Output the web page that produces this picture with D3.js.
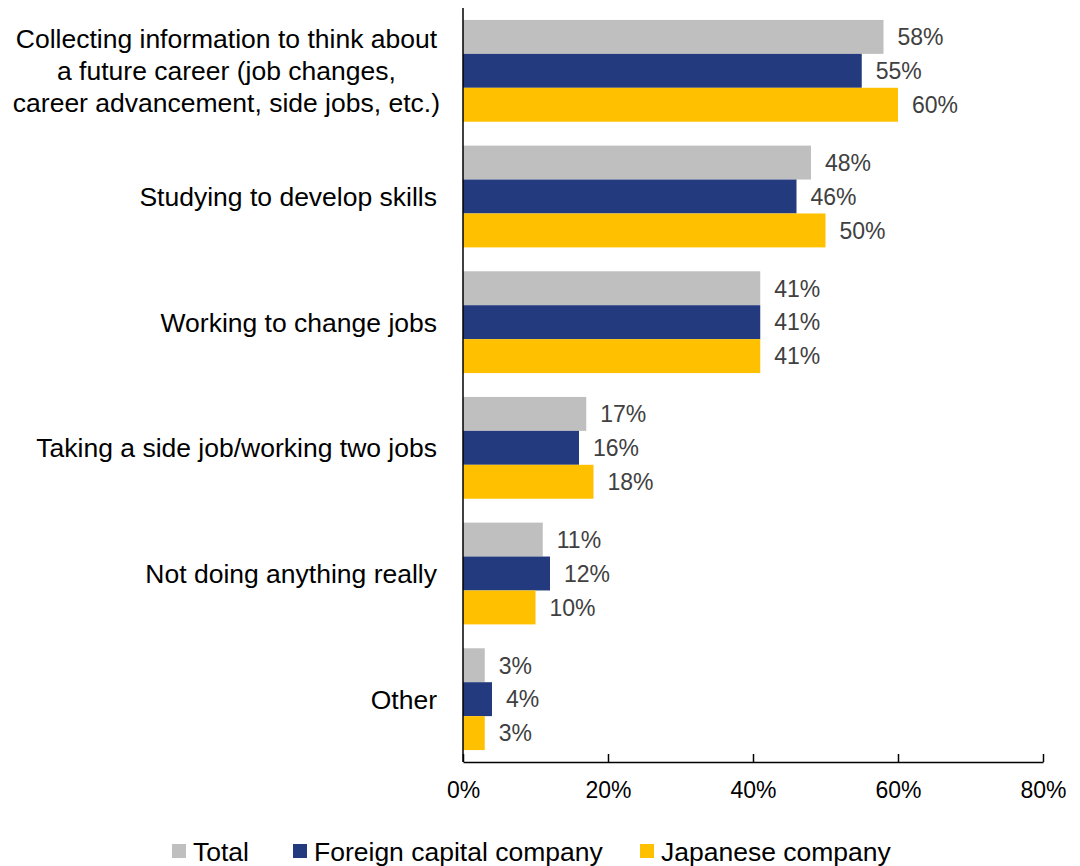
<!DOCTYPE html>
<html>
<head>
<meta charset="utf-8">
<script src="https://cdn.jsdelivr.net/npm/d3@7"></script>
<style>
  html, body { margin: 0; padding: 0; background: #fff; }
  svg { display: block; font-family: "Liberation Sans", Arial, sans-serif; }
</style>
</head>
<body>
<svg id="chart" width="1080" height="866"></svg>
<script>
// Survey categories (top to bottom) and share of respondents per group
const categories = [
  ["Collecting information to think about", "a future career (job changes,", "career advancement, side jobs, etc.)"],
  ["Studying to develop skills"],
  ["Working to change jobs"],
  ["Taking a side job/working two jobs"],
  ["Not doing anything really"],
  ["Other"]
];
const seriesNames = ["Total", "Foreign capital company", "Japanese company"];
const seriesColors = ["#BFBFBF", "#233A7E", "#FFC000"];
const totalValues    = [58, 48, 41, 17, 11, 3];
const foreignValues  = [55, 46, 41, 16, 12, 4];
const japaneseValues = [60, 50, 41, 18, 10, 3];
const tickValues = [0, 20, 40, 60, 80];

const series = [totalValues, foreignValues, japaneseValues];

const svg = d3.select("#chart");
const plot = { left: 463, right: 1043, top: 8, bottom: 762 };

const x = d3.scaleLinear().domain([0, 80]).range([plot.left, plot.right]);
const y = d3.scaleBand().domain(d3.range(categories.length))
  .range([plot.top, plot.bottom]).paddingInner(0.19).paddingOuter(0.095);
const ySub = d3.scaleBand().domain(d3.range(series.length)).range([0, y.bandwidth()]);

// Bars and value labels
series.forEach((vals, si) => {
  const g = svg.append("g");
  g.selectAll("rect").data(vals).join("rect")
    .attr("x", x(0))
    .attr("y", (d, i) => y(i) + ySub(si))
    .attr("width", d => x(d) - x(0))
    .attr("height", ySub.bandwidth())
    .attr("fill", seriesColors[si]);
  g.selectAll("text").data(vals).join("text")
    .attr("x", d => x(d) + 14)
    .attr("y", (d, i) => y(i) + ySub(si) + ySub.bandwidth() / 2)
    .attr("dy", "0.36em")
    .attr("font-size", 23)
    .attr("fill", "#404040")
    .text(d => d + "%");
});

// Category labels: single lines right-aligned to the axis, wrapped labels centred as a block
const labelRight = 437;
const catG = svg.append("g");
categories.forEach((lines, i) => {
  const cy = y(i) + y.bandwidth() / 2;
  const lh = 32;
  const t = catG.append("text")
    .attr("font-size", 26.5)
    .attr("fill", "#000");
  const spans = lines.map((ln, k) => t.append("tspan")
    .attr("y", cy + (k - (lines.length - 1) / 2) * lh)
    .attr("dy", "0.36em")
    .text(ln));
  if (lines.length === 1) {
    t.attr("text-anchor", "end");
    spans[0].attr("x", labelRight);
  } else {
    const widest = d3.max(spans, s => s.node().getComputedTextLength());
    t.attr("text-anchor", "middle");
    spans.forEach(s => s.attr("x", labelRight + 3 - widest / 2));
  }
});

// X axis with inward ticks
const xAxis = d3.axisBottom(x).tickValues(tickValues)
  .tickFormat(d => d + "%").tickSize(-8).tickSizeOuter(0);
const xg = svg.append("g").attr("transform", `translate(0,${plot.bottom})`).call(xAxis);
xg.select(".domain").attr("stroke", "#000").attr("stroke-width", 1.5);
xg.selectAll(".tick line").attr("stroke", "#000").attr("stroke-width", 1.5);
xg.selectAll(".tick text").attr("font-size", 23).attr("fill", "#000")
  .attr("font-family", "Liberation Sans, Arial, sans-serif").attr("y", 20);

// Y axis line
svg.append("line")
  .attr("x1", x(0)).attr("x2", x(0))
  .attr("y1", plot.top).attr("y2", plot.bottom)
  .attr("stroke", "#000").attr("stroke-width", 1.5);

// Legend
const legendX = [172, 293, 640];
const lg = svg.append("g");
seriesNames.forEach((name, i) => {
  lg.append("rect").attr("x", legendX[i]).attr("y", 844)
    .attr("width", 14).attr("height", 14).attr("fill", seriesColors[i]);
  lg.append("text").attr("x", legendX[i] + 21).attr("y", 851)
    .attr("dy", "0.36em").attr("font-size", 26.5).attr("fill", "#000").text(name);
});
</script>
</body>
</html>
